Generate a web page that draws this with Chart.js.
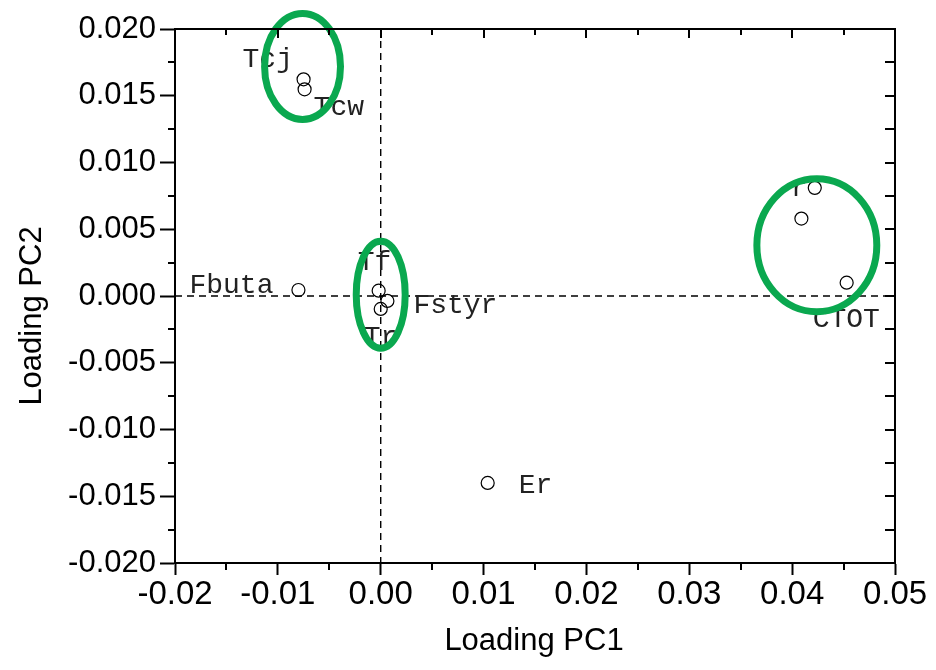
<!DOCTYPE html>
<html>
<head>
<meta charset="utf-8">
<script src="https://cdn.jsdelivr.net/npm/chart.js@4"></script>
<style>
  body { margin: 0; background: #fff; }
  #wrap { width: 936px; height: 670px; }
</style>
</head>
<body>
<div id="wrap"><canvas id="pca" width="936" height="670"></canvas></div>
<script>
// loadings
const pointNames = ['Tcj', 'Tcw', 'Fbuta', 'Tf', 'Fstyr', 'Tr', 'Er', 'r', '', 'CTOT'];
const pc1 = [-0.0075, -0.0074, -0.0080, -0.0002, 0.00065, 0.0000, 0.0104, 0.0422, 0.0409, 0.0453];
const pc2 = [0.01623, 0.01548, 0.00045, 0.0004, -0.00037, -0.00097, -0.0140, 0.0081, 0.0058, 0.0010];

// label offset from its point, in px (text left / baseline)
const labelDx = [-61, 9, -109, -21, 26, -17, 31, -24, 0, -34];
const labelDy = [-12, 26, 3, -21, 12, 36, 10, 8, 0, 44];

// green groupings (centre and radii in data units)
const ringCx = [-0.0076, 0.0000, 0.0424];
const ringCy = [0.0172, 0.0001, 0.0038];
const ringRx = [0.00369, 0.00238, 0.00583];
const ringRy = [0.00397, 0.00401, 0.00498];

const xTicks = [-0.02, -0.01, 0.00, 0.01, 0.02, 0.03, 0.04, 0.05];
const yTicks = [-0.020, -0.015, -0.010, -0.005, 0.000, 0.005, 0.010, 0.015, 0.020];

const points = pc1.map((x, i) => ({ x: x, y: pc2[i] }));

const extras = {
  id: 'extras',
  beforeDatasetsDraw(chart) {
    const { ctx, chartArea: a, scales: { x, y } } = chart;
    ctx.save();
    ctx.strokeStyle = '#000';
    ctx.lineWidth = 1.4;
    ctx.setLineDash([7, 5]);
    const x0 = x.getPixelForValue(0);
    const y0 = y.getPixelForValue(0);
    ctx.beginPath();
    ctx.moveTo(x0, a.top); ctx.lineTo(x0, a.bottom);
    ctx.moveTo(a.left, y0); ctx.lineTo(a.right, y0);
    ctx.stroke();
    ctx.restore();
  },
  afterDatasetsDraw(chart) {
    const { ctx, chartArea: a, scales: { x, y } } = chart;
    ctx.save();
    // point labels
    ctx.font = '28px "Liberation Mono", "Courier New", monospace';
    ctx.fillStyle = '#222';
    ctx.textBaseline = 'alphabetic';
    pointNames.forEach((name, i) => {
      if (!name) return;
      const px = x.getPixelForValue(pc1[i]);
      const py = y.getPixelForValue(pc2[i]);
      ctx.fillText(name, px + labelDx[i], py + labelDy[i]);
    });
    // green ellipses
    ctx.strokeStyle = '#0aa84f';
    ctx.lineWidth = 7;
    ringCx.forEach((cx, i) => {
      const px = x.getPixelForValue(cx);
      const py = y.getPixelForValue(ringCy[i]);
      const rx = Math.abs(x.getPixelForValue(cx + ringRx[i]) - px);
      const ry = Math.abs(y.getPixelForValue(ringCy[i] + ringRy[i]) - py);
      ctx.beginPath();
      ctx.ellipse(px, py, rx, ry, 0, 0, Math.PI * 2);
      ctx.stroke();
    });

    // frame top / right with inward ticks, minor ticks on bottom / left
    ctx.strokeStyle = '#000';
    ctx.lineWidth = 2;
    ctx.beginPath();
    ctx.moveTo(a.left, a.top); ctx.lineTo(a.right, a.top); ctx.lineTo(a.right, a.bottom);
    for (let v = -0.02; v <= 0.05001; v += 0.005) {
      const px = Math.round(x.getPixelForValue(v));
      const major = Math.abs(v / 0.01 - Math.round(v / 0.01)) < 1e-6;
      ctx.moveTo(px, a.top); ctx.lineTo(px, a.top + (major ? 9 : 6));
      if (!major) { ctx.moveTo(px, a.bottom); ctx.lineTo(px, a.bottom + 7); }
    }
    for (let v = -0.02; v <= 0.02001; v += 0.0025) {
      const py = Math.round(y.getPixelForValue(v));
      const major = Math.abs(v / 0.005 - Math.round(v / 0.005)) < 1e-6;
      ctx.moveTo(a.right, py); ctx.lineTo(a.right - 10, py);
      if (!major) { ctx.moveTo(a.left, py); ctx.lineTo(a.left - 7, py); }
    }
    ctx.stroke();

    // axis titles
    ctx.fillStyle = '#000';
    ctx.font = '31px "Liberation Sans", Arial, sans-serif';
    ctx.textAlign = 'center';
    ctx.textBaseline = 'alphabetic';
    ctx.fillText('Loading PC1', 534, 650);
    ctx.translate(41, 316);
    ctx.rotate(-Math.PI / 2);
    ctx.fillText('Loading PC2', 0, 0);
    ctx.restore();
  }
};

new Chart(document.getElementById('pca'), {
  type: 'scatter',
  data: {
    datasets: [{
      data: points,
      pointRadius: 6.5,
      pointHoverRadius: 6.5,
      pointBorderWidth: 1.2,
      pointBorderColor: '#000',
      pointBackgroundColor: 'rgba(255,255,255,0)'
    }]
  },
  options: {
    responsive: false,
    animation: false,
    devicePixelRatio: 1,
    layout: { padding: { top: 29, right: 41, left: 0, bottom: 0 } },
    plugins: { legend: { display: false }, tooltip: { enabled: false } },
    scales: {
      x: {
        type: 'linear',
        min: -0.02,
        max: 0.05,
        afterBuildTicks: (s) => { s.ticks = xTicks.map(v => ({ value: v })); },
        afterFit: (s) => { s.height = 107; },
        ticks: {
          color: '#000',
          padding: 0,
          maxRotation: 0,
          font: { family: '"Liberation Sans", Arial, sans-serif', size: 33 },
          callback: (v) => (Math.abs(v) < 1e-9 ? 0 : v).toFixed(2)
        },
        grid: { drawOnChartArea: false, tickLength: 12, tickColor: '#000', tickWidth: 2 },
        border: { color: '#000', width: 2 }
      },
      y: {
        type: 'linear',
        min: -0.02,
        max: 0.02,
        afterBuildTicks: (s) => { s.ticks = yTicks.map(v => ({ value: v })); },
        afterFit: (s) => { s.width = 175; },
        ticks: {
          color: '#000',
          padding: 4,
          font: { family: '"Liberation Sans", Arial, sans-serif', size: 31 },
          callback: (v) => (Math.abs(v) < 1e-9 ? 0 : v).toFixed(3)
        },
        grid: { drawOnChartArea: false, tickLength: 15, tickColor: '#000', tickWidth: 2 },
        border: { color: '#000', width: 2 }
      }
    }
  },
  plugins: [extras]
});
</script>
</body>
</html>
